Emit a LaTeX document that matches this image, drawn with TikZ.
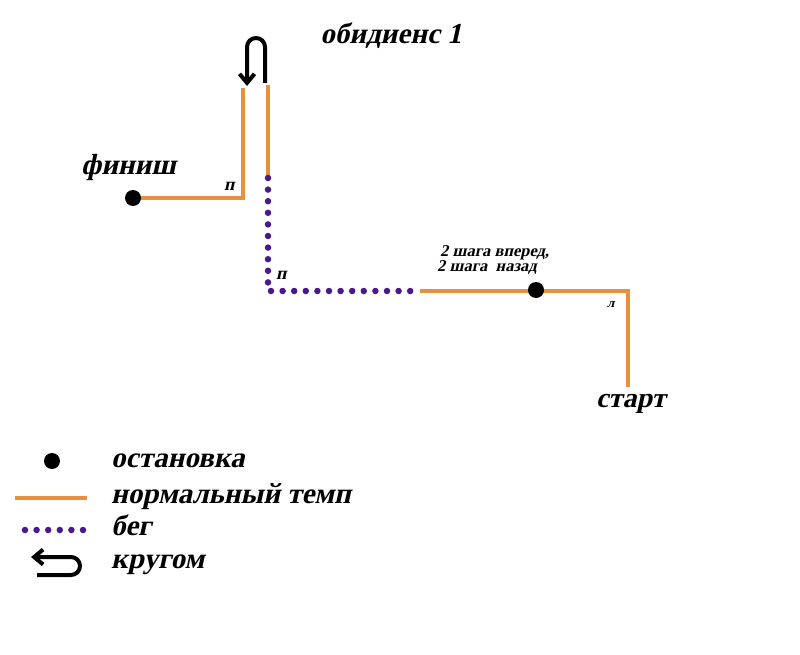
\documentclass[tikz,border=0pt]{standalone}
\usepackage{fontspec}
\setmainfont{Liberation Serif}
\newfontfamily\obfont{Liberation Serif Bold}[FakeSlant=0.22]
\usetikzlibrary{arrows.meta}
\definecolor{routeorange}{RGB}{232,144,62}
\definecolor{runpurple}{RGB}{72,24,142}
\begin{document}
\begin{tikzpicture}[x=1pt,y=-1pt,
  normal/.style={draw=routeorange,line width=4pt},
  running/.style={draw=runpurple,line width=6.5pt,line cap=round,dash pattern=on 0pt off 11.6pt},
  stopdot/.style={circle,fill=black,inner sep=0pt,minimum size=16pt},
  uturn/.style={draw=black,line width=4pt,-{Straight Barb[length=9pt,width=15pt,line width=4pt]}},
  bigtxt/.style={font=\obfont\fontsize{29}{32}\selectfont,inner sep=0pt},
  smalltxt/.style={font=\obfont\fontsize{16.5}{17}\selectfont,inner sep=0pt},
  turntxt/.style={font=\obfont\fontsize{18}{18}\selectfont,inner sep=0pt},
]
\useasboundingbox[fill=white] (0,0) rectangle (800,655);
% route coordinates
\coordinate (fin) at (133,198);
\coordinate (c1) at (243,198);
\coordinate (c1top) at (243,88);
\coordinate (c2top) at (268,85);
\coordinate (c2run) at (268,178);
\coordinate (c3) at (268,291);
\coordinate (runend) at (415,291);
\coordinate (c4) at (628,291);
\coordinate (st) at (628,387);
% orange segments
\draw[normal] (fin) -- (c1) -- (c1top);
\draw[normal] (c2top) -- (268,176);
\draw[normal] (420,291) -- (c4) -- (st);
% purple running
\draw[running] (c2run) -- (c3) -- (runend);
% stops
\node[stopdot] (stopfin) at (fin) {};
\node[stopdot] (stopmid) at (536,290) {};
% u-turn
\coordinate (ua) at (265,83);
\coordinate (ub) at (247,86);
\draw[uturn] (ua) -- (265,47) arc[start angle=0,end angle=-180,radius=9] -- (ub);
% labels
\node[bigtxt,anchor=base] (title) at (391,44) {обидиенс 1};
\node[bigtxt,anchor=base west] (finish) at (81,175) {финиш};
\node[bigtxt,anchor=base west,font=\obfont\fontsize{28}{30}\selectfont] (start) at (596,407) {старт};
\node[turntxt,anchor=base west] (p1) at (224,191) {п};
\node[turntxt,anchor=base west] (p2) at (276,279) {п};
\node[font=\obfont\fontsize{13}{13}\selectfont,inner sep=0pt,anchor=base west] (l1) at (607,307) {л};
\node[smalltxt,anchor=base west] (steps1) at (440,256) {2 шага вперед,};
\node[smalltxt,anchor=base west] (steps2) at (437,271) {2 шага\ \ назад};
% legend
\node[stopdot] (lgdot) at (52,461) {};
\node[bigtxt,anchor=base west] (lg1) at (111,467) {остановка};
\coordinate (lgl1) at (15,498);
\coordinate (lgl2) at (87,498);
\draw[normal] (lgl1) -- (lgl2);
\node[bigtxt,anchor=base west] (lg2) at (111,503) {нормальный темп};
\coordinate (lgr1) at (25,530);
\coordinate (lgr2) at (88,530);
\draw[running] (lgr1) -- (lgr2);
\node[bigtxt,anchor=base west] (lg3) at (111,535) {бег};
\coordinate (lga1) at (37,575);
\coordinate (lga2) at (31,557);
\draw[uturn] (lga1) -- (71,575) arc[start angle=90,end angle=-90,radius=9] -- (lga2);
\node[bigtxt,anchor=base west] (lg4) at (111,568) {кругом};
\end{tikzpicture}
\end{document}
